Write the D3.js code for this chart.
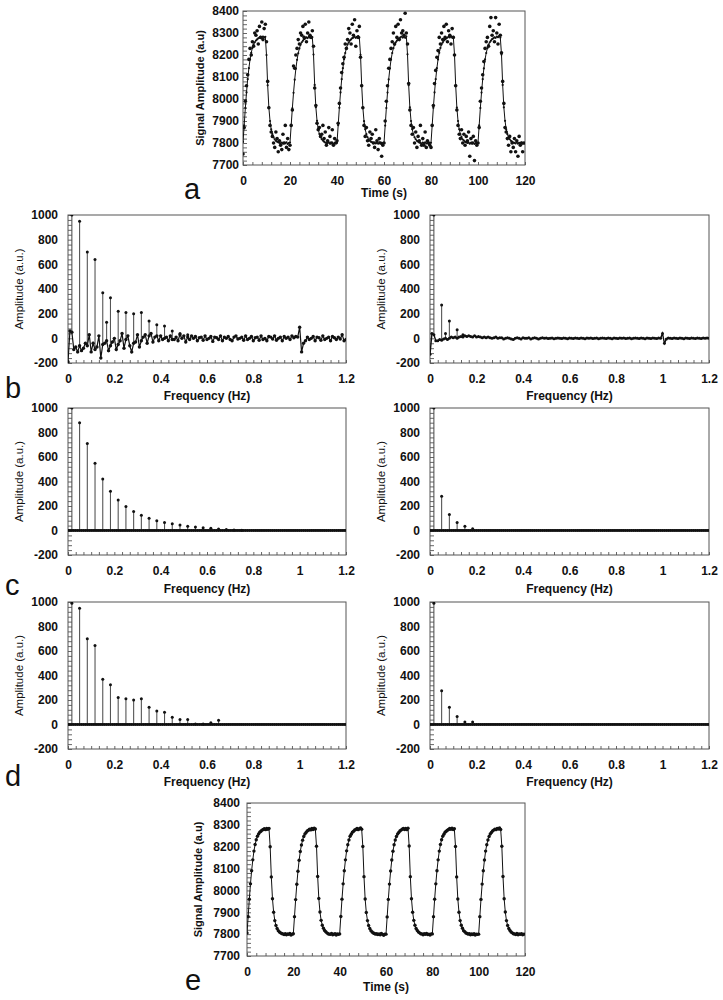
<!DOCTYPE html>
<html><head><meta charset="utf-8">
<script src="https://cdn.jsdelivr.net/npm/d3@7"></script>
<style>
body{margin:0;background:#fff}
svg{display:block}
text{font-family:"Liberation Sans",Arial,sans-serif}
</style>
</head><body>
<svg id="chart" width="723" height="1000"></svg>
<script>
// ---------------- DATA ----------------
const timeTicks = [0, 20, 40, 60, 80, 100, 120];
const signalTicks = [7700, 7800, 7900, 8000, 8100, 8200, 8300, 8400];
const freqTicks = [0, 0.2, 0.4, 0.6, 0.8, 1, 1.2];
const ampTicks = [-200, 0, 200, 400, 600, 800, 1000];
const sampleInterval = 0.5; // s
const binWidth = 1 / 120;   // Hz

// fitted / filtered signal (panel a line, panel e)
const fittedSignal = [
 7805,7880,7960,8030,8090,8140,8180,8210,8232,8248,8258,8266,8271,8276,8279,8282,8278,8284,8280,8283,
 8200,8062,7962,7900,7862,7840,7826,7816,7810,7806,7803,7801,7798,7802,7797,7801,7799,7803,7796,7800,
 7802,7880,7958,8028,8088,8138,8178,8208,8230,8247,8258,8265,8272,8275,8280,8277,8283,8279,8285,8281,
 8202,8064,7963,7901,7863,7841,7827,7817,7811,7806,7802,7800,7799,7803,7797,7800,7802,7796,7801,7799,
 7801,7881,7960,8030,8090,8140,8181,8209,8231,8248,8257,8266,8271,8277,8279,8283,8278,8282,8286,8280,
 8201,8063,7961,7899,7862,7840,7826,7816,7810,7805,7803,7800,7802,7798,7801,7797,7803,7799,7795,7800,
 7800,7879,7959,8029,8089,8139,8179,8209,8231,8247,8258,8265,8272,8276,8280,8284,8279,8283,8278,8285,
 8203,8063,7962,7900,7863,7841,7826,7817,7810,7806,7802,7801,7797,7802,7799,7803,7798,7800,7796,7801,
 7801,7880,7960,8030,8090,8140,8180,8210,8232,8248,8257,8266,8271,8275,8279,8283,8280,8285,8279,8282,
 8201,8062,7961,7900,7862,7841,7827,7816,7811,7805,7803,7800,7802,7797,7801,7798,7802,7796,7800,7799,
 7800,7880,7959,8029,8090,8139,8180,8209,8231,8247,8258,8265,8272,8276,8280,8278,8284,8281,8286,8279,
 8202,8064,7962,7901,7862,7840,7826,7817,7810,7806,7802,7801,7798,7803,7797,7801,7799,7802,7797,7800
];

// raw noisy signal (panel a points)
const rawSignal = [
 7750,7870,7990,8060,8110,8180,8230,8200,8260,8240,8300,8290,8310,8250,8330,8280,8350,8270,8320,8340,
 8260,8080,7960,7880,7850,7830,7800,7780,7850,7820,7760,7810,7790,7770,7840,7800,7880,7780,7820,7770,
 7790,7880,7950,8150,8140,8200,8230,8270,8250,8300,8290,8330,8280,8340,8260,8300,8350,8290,8280,8310,
 8240,8050,7970,7890,7860,7870,7830,7840,7880,7820,7850,7790,7810,7870,7830,7800,7860,7790,7820,7800,
 7810,7890,7980,8050,8120,8160,8190,8250,8230,8270,8320,8300,8250,8340,8290,8360,8240,8310,8280,8330,
 8190,8060,7960,7880,7830,7870,7810,7790,7850,7820,7840,7800,7780,7860,7810,7770,7820,7800,7740,7790,
 7800,7900,7990,8060,8140,8180,8230,8260,8300,8250,8330,8280,8340,8270,8360,8300,8310,8290,8390,8300,
 8250,8070,7950,7880,7840,7870,7800,7850,7780,7830,7810,7880,7790,7820,7790,7850,7780,7810,7800,7790,
 7780,7880,7970,8070,8130,8190,8220,8280,8250,8300,8270,8330,8280,8340,8260,8310,8290,8250,8320,8280,
 8200,8060,7950,7880,7840,7820,7860,7800,7840,7790,7830,7810,7850,7740,7820,7800,7830,7720,7810,7790,
 7800,7870,7990,8050,8110,8170,8230,8260,8280,8240,8330,8370,8290,8310,8260,8370,8300,8250,8340,8290,
 8210,8080,7980,7870,7850,7820,7790,7830,7760,7800,7780,7820,7760,7810,7740,7830,7790,7800,7760,7800
];

// spectrum baselines (one value per frequency bin)
const bLeftBaseline = [
 -190,60,50,-90,-70,-110,-60,-100,-80,-40,
 -60,30,-110,-40,-90,-70,20,-160,-50,-40,
 -20,-100,-60,-30,0,-90,-50,-20,40,-80,
 -10,20,-60,-110,-40,-30,30,-70,-20,10,
 30,-40,20,40,-30,10,20,-20,20,-10,
 0,10,-20,20,-10,-10,10,-20,30,0,
 20,-30,10,-10,20,0,15,-20,5,10,
 -15,20,-10,0,15,-25,10,5,-10,20,
 -20,10,0,15,-10,-20,10,20,-5,0,
 10,-15,20,-10,0,15,-20,5,10,-15,
 20,-10,0,-20,15,10,-5,20,-15,0,
 10,-20,15,0,10,-10,20,5,15,10,
 90,-110,-40,-20,10,-10,0,15,-20,10,
 5,-15,20,-10,0,10,-20,15,5,-10,
 10,-5,30,-20,-10
];
const bRightBaseline = [
 -130,40,30,-20,-20,-10,-15,-5,0,-10,
 0,10,5,10,0,10,15,10,20,15,
 20,15,10,20,10,15,10,5,10,5,
 10,5,0,5,10,0,5,5,-5,0,
 5,0,-5,-10,0,5,0,-5,5,0,
 0,5,-5,0,5,0,-5,0,5,0,
 3,-2,0,2,-3,0,2,0,-2,3,
 0,-3,2,0,-2,3,0,-2,2,0,
 -3,2,0,3,-2,0,2,-3,0,2,
 0,-2,3,0,-3,2,0,-2,2,0,
 3,-2,0,2,-3,0,2,0,-2,3,
 0,-3,2,0,-2,3,0,-2,2,0,
 40,-40,-5,2,0,-2,3,0,-2,2,
 0,-3,2,0,-2,3,0,-2,2,0,
 -2,2,0,3,0
];
const flatBaseline = [
 0,0,0,0,0,0,0,0,0,0,0,0,0,0,0,0,0,0,0,0,0,0,0,0,0,0,0,0,0,0,
 0,0,0,0,0,0,0,0,0,0,0,0,0,0,0,0,0,0,0,0,0,0,0,0,0,0,0,0,0,0,
 0,0,0,0,0,0,0,0,0,0,0,0,0,0,0,0,0,0,0,0,0,0,0,0,0,0,0,0,0,0,
 0,0,0,0,0,0,0,0,0,0,0,0,0,0,0,0,0,0,0,0,0,0,0,0,0,0,0,0,0,0,
 0,0,0,0,0,0,0,0,0,0,0,0,0,0,0,0,0,0,0,0,0,0,0,0,0
];

// spectral peaks: bin index and amplitude
const bLeftPeakBins = [2,6,10,14,18,20,22,26,30,34,38,42,46,50,54,58,62];
const bLeftPeakAmps = [1000,950,700,640,370,130,330,220,210,200,210,140,110,100,60,40,30];
const bRightPeakBins = [2,6,8,10,14,17];
const bRightPeakAmps = [1000,270,40,140,70,30];
const cLeftPeakBins = [2,6,10,14,18,22,26,30,34,38,42,46,50,54,58,62,66,70,74,78,82,86,90];
const cLeftPeakAmps = [1000,880,710,550,420,320,250,195,155,125,100,80,65,55,45,35,28,22,18,12,8,5,3];
const cRightPeakBins = [2,6,10,14,18,22];
const cRightPeakAmps = [1000,280,130,65,35,15];
const dLeftPeakBins = [2,6,10,14,18,22,26,30,34,38,42,46,50,54,58,62,66,70,74,78];
const dLeftPeakAmps = [990,950,700,645,370,325,220,210,200,210,140,110,100,60,40,40,5,5,15,35];
const dRightPeakBins = [2,6,10,14,18,22];
const dRightPeakAmps = [990,275,140,65,20,20];

// ---------------- DRAWING ----------------
const svg = d3.select('#chart');
const defs = svg.append('defs');
let clipN = 0;

function makePanel(c) {
  const x = d3.scaleLinear().domain(c.xd).range([c.l, c.r]);
  const y = d3.scaleLinear().domain(c.yd).range([c.b, c.t]);
  const g = svg.append('g');
  const cid = 'clip' + (clipN++);
  defs.append('clipPath').attr('id', cid).append('rect')
    .attr('x', c.l).attr('y', c.t).attr('width', c.r - c.l).attr('height', c.b - c.t);

  // minor ticks (inward)
  const xm = g.append('g').attr('transform', `translate(0,${c.b})`)
    .call(d3.axisBottom(x).tickValues(c.xMinor).tickSize(-3).tickFormat(''));
  xm.select('.domain').remove();
  xm.selectAll('line').attr('stroke', '#666');
  const ym = g.append('g').attr('transform', `translate(${c.l},0)`)
    .call(d3.axisLeft(y).tickValues(c.yMinor).tickSize(-4).tickFormat(''));
  ym.select('.domain').remove();
  ym.selectAll('line').attr('stroke', '#666');

  // tick labels
  const xa = g.append('g').attr('transform', `translate(0,${c.b})`)
    .call(d3.axisBottom(x).tickValues(c.xTicks).tickSize(0).tickPadding(c.xPad).tickFormat(d => String(d)));
  xa.select('.domain').remove();
  xa.selectAll('text').attr('font-size', 12).attr('font-weight', 'bold').attr('fill', '#111')
    .attr('font-family', '"Liberation Sans",Arial,sans-serif');
  const ya = g.append('g').attr('transform', `translate(${c.l},0)`)
    .call(d3.axisLeft(y).tickValues(c.yTicks).tickSize(0).tickPadding(c.yPad).tickFormat(d => String(d)));
  ya.select('.domain').remove();
  ya.selectAll('text').attr('font-size', 12).attr('font-weight', 'bold').attr('fill', '#111')
    .attr('font-family', '"Liberation Sans",Arial,sans-serif');

  // frame
  g.append('rect').attr('x', c.l).attr('y', c.t).attr('width', c.r - c.l).attr('height', c.b - c.t)
    .attr('fill', 'none').attr('stroke', '#555').attr('stroke-width', 1);

  // axis titles
  g.append('text').attr('x', (c.l + c.r) / 2).attr('y', c.b + c.xTitleDy)
    .attr('text-anchor', 'middle').attr('font-size', 12).attr('font-weight', 'bold').attr('fill', '#111')
    .text(c.xTitle);
  g.append('text').attr('transform', `translate(${c.yTitleX},${(c.t + c.b) / 2}) rotate(-90)`)
    .attr('text-anchor', 'middle').attr('dy', '0.35em').attr('font-size', c.yTitleSize)
    .attr('font-weight', c.yTitleWeight).attr('fill', '#111').text(c.yTitle);

  const plot = g.append('g').attr('clip-path', `url(#${cid})`);
  return { x, y, plot };
}

function panelLetter(txt, x, y) {
  svg.append('text').attr('x', x).attr('y', y).attr('font-size', 29).attr('fill', '#111').text(txt);
}

const timeMinor = d3.range(0, 121, 4);
const sigMinor = d3.range(7700, 8401, 20);
const freqMinor = d3.range(0, 37).map(i => i / 30);
const ampMinor = d3.range(-200, 1001, 40);

function timePanel(box, withRaw) {
  const p = makePanel(Object.assign({
    xd: [0, 120], yd: [7700, 8400], xTicks: timeTicks, yTicks: signalTicks,
    xMinor: timeMinor, yMinor: sigMinor, xPad: 11,
    xTitle: 'Time (s)', yTitle: 'Signal Amplitude (a.u)', yTitleSize: 11, yTitleWeight: 'bold'
  }, box));
  const pts = fittedSignal.map((v, i) => [i * sampleInterval, v]);
  p.plot.append('path').datum(pts)
    .attr('d', d3.line().x(d => p.x(d[0])).y(d => p.y(d[1])))
    .attr('fill', 'none').attr('stroke', '#111').attr('stroke-width', 1);
  p.plot.selectAll('circle.fit').data(pts).join('circle').attr('class', 'fit')
    .attr('cx', d => p.x(d[0])).attr('cy', d => p.y(d[1]))
    .attr('r', withRaw ? 1.1 : 1.7).attr('fill', '#111');
  if (withRaw) {
    p.plot.selectAll('circle.raw').data(rawSignal.map((v, i) => [i * sampleInterval, v]))
      .join('circle').attr('class', 'raw')
      .attr('cx', d => p.x(d[0])).attr('cy', d => p.y(d[1])).attr('r', 1.8).attr('fill', '#111');
  }
}

function specPanel(box, base, peakBins, peakAmps, baseWidth, markR) {
  const p = makePanel(Object.assign({
    xd: [0, 1.2], yd: [-200, 1000], xTicks: freqTicks, yTicks: ampTicks,
    xMinor: freqMinor, yMinor: ampMinor, xPad: 11, yPad: 10, xTitleDy: 37,
    xTitle: 'Frequency (Hz)', yTitle: 'Amplitude (a.u.)', yTitleSize: 11.5, yTitleWeight: 'normal'
  }, box));
  const pts = base.map((v, i) => [i * binWidth, v]);
  // stems
  const stems = peakBins.map((k, i) => ({ f: k * binWidth, lo: base[k], hi: peakAmps[i] }));
  p.plot.selectAll('line.stem').data(stems).join('line').attr('class', 'stem')
    .attr('x1', d => p.x(d.f)).attr('x2', d => p.x(d.f))
    .attr('y1', d => p.y(d.lo)).attr('y2', d => p.y(d.hi))
    .attr('stroke', '#555').attr('stroke-width', 1.1);
  p.plot.selectAll('circle.top').data(stems).join('circle').attr('class', 'top')
    .attr('cx', d => p.x(d.f)).attr('cy', d => p.y(d.hi)).attr('r', 1.5).attr('fill', '#111');
  // baseline spectrum
  p.plot.append('path').datum(pts)
    .attr('d', d3.line().x(d => p.x(d[0])).y(d => p.y(d[1])))
    .attr('fill', 'none').attr('stroke', '#111').attr('stroke-width', baseWidth);
  p.plot.selectAll('circle.b').data(pts).join('circle').attr('class', 'b')
    .attr('cx', d => p.x(d[0])).attr('cy', d => p.y(d[1])).attr('r', markR).attr('fill', '#111');
}

// panel a
timePanel({ l: 243, r: 525, t: 11, b: 165, yPad: 4, xTitleDy: 32, yTitleX: 200 }, true);
panelLetter('a', 184, 199);

// panel b
specPanel({ l: 68, r: 346, t: 215, b: 363, yTitleX: 19 }, bLeftBaseline, bLeftPeakBins, bLeftPeakAmps, 1.2, 1.7);
specPanel({ l: 430, r: 709, t: 215, b: 363, yTitleX: 381 }, bRightBaseline, bRightPeakBins, bRightPeakAmps, 1.4, 1.5);
panelLetter('b', 5, 398);

// panel c
specPanel({ l: 68, r: 346, t: 408, b: 555, yTitleX: 19, xTitleDy: 38 }, flatBaseline, cLeftPeakBins, cLeftPeakAmps, 2, 1.4);
specPanel({ l: 430, r: 709, t: 408, b: 555, yTitleX: 381, xTitleDy: 38 }, flatBaseline, cRightPeakBins, cRightPeakAmps, 2, 1.4);
panelLetter('c', 5, 595);

// panel d
specPanel({ l: 68, r: 346, t: 602, b: 749, yTitleX: 19, xTitleDy: 37 }, flatBaseline, dLeftPeakBins, dLeftPeakAmps, 2, 1.4);
specPanel({ l: 430, r: 709, t: 602, b: 749, yTitleX: 381, xTitleDy: 37 }, flatBaseline, dRightPeakBins, dRightPeakAmps, 2, 1.4);
panelLetter('d', 5, 786);

// panel e
timePanel({ l: 247, r: 525, t: 803, b: 956, yPad: 7, xTitleDy: 35, yTitleX: 198 }, false);
panelLetter('e', 185, 990);
</script>
</body></html>
